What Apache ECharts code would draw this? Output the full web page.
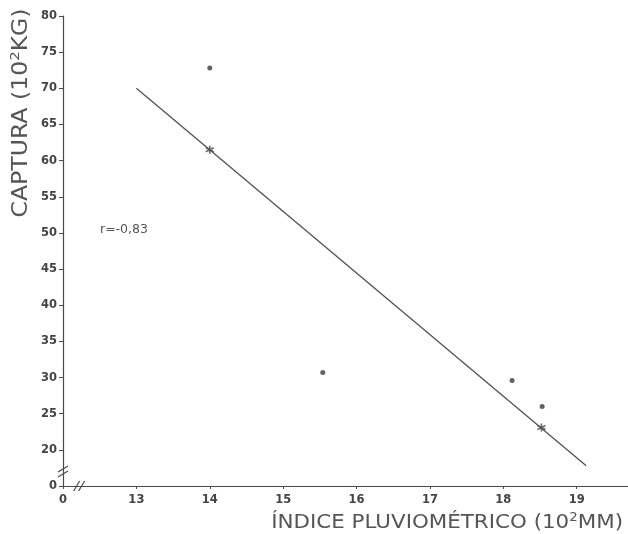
<!DOCTYPE html>
<html>
<head>
<meta charset="utf-8">
<script src="https://cdn.jsdelivr.net/npm/echarts@6/dist/echarts.min.js"></script>
<style>
html, body { margin: 0; padding: 0; background: #ffffff; }
#chart { width: 628px; height: 534px; }
</style>
</head>
<body>
<div id="chart"></div>
<script>
// observações (pontos)
var obsX = [14.0, 15.54, 18.12, 18.53];
var obsY = [72.8, 30.7, 29.6, 26.0];
// médias (asteriscos) sobre a reta
var meanX = [14.0, 18.52];
var meanY = [61.5, 23.1];
// reta de regressão, extremos
var fitX = [13.0, 19.13];
var fitY = [70.0, 17.8];
// eixos (valor inicial mostrado como "0" por causa da quebra)
var xTicks = [12, 13, 14, 15, 16, 17, 18, 19];
var yTicks = [15, 20, 25, 30, 35, 40, 45, 50, 55, 60, 65, 70, 75, 80];

var ink = '#4a4a4a';
var font = 'DejaVu Sans';

function pairs(xs, ys){
    var out = [];
    for (var i = 0; i < xs.length; i++) out.push([xs[i], ys[i]]);
    return out;
}

var star = 'path://M5,0L5,10M0,2.5L10,7.5M0,7.5L10,2.5';

var chart = echarts.init(document.getElementById('chart'));
var option = {
    backgroundColor: '#ffffff',
    animation: false,
    grid: { left: 63, right: 0, top: 16, bottom: 48, containLabel: false },
    xAxis: {
        type: 'value',
        min: 12, max: 19.7, interval: 1,
        splitLine: { show: false },
        axisLine: { lineStyle: { color: ink, width: 1.2 } },
        axisTick: { length: 3, lineStyle: { color: ink } },
        axisLabel: {
            color: '#444', fontFamily: font, fontSize: 11.5, fontWeight: 'bold', margin: 8,
            showMaxLabel: false,
            formatter: function(v){
                if (xTicks.indexOf(v) < 0) return '';
                return v === xTicks[0] ? '0' : String(v);
            }
        }
    },
    yAxis: {
        type: 'value',
        min: 15, max: 80, interval: 5,
        splitLine: { show: false },
        axisLine: { lineStyle: { color: ink, width: 1.2 } },
        axisTick: { length: 4, lineStyle: { color: ink } },
        axisLabel: {
            color: '#444', fontFamily: font, fontSize: 11.5, fontWeight: 'bold', margin: 6,
            formatter: function(v){
                if (yTicks.indexOf(v) < 0) return '';
                return v === yTicks[0] ? '0' : String(v);
            }
        }
    },
    series: [
        {
            name: 'reta',
            type: 'line',
            data: pairs(fitX, fitY),
            symbol: 'none',
            lineStyle: { color: '#555', width: 1.4 }
        },
        {
            name: 'médias',
            type: 'scatter',
            data: pairs(meanX, meanY),
            symbol: star,
            symbolSize: 8,
            itemStyle: { color: 'none', borderColor: '#444', borderWidth: 1.6 }
        },
        {
            name: 'observações',
            type: 'scatter',
            data: pairs(obsX, obsY),
            symbol: 'circle',
            symbolSize: 5,
            itemStyle: { color: '#3a3a3a' }
        }
    ],
    graphic: [
        {
            type: 'text',
            x: 22, y: 113,
            rotation: Math.PI / 2,
            scaleX: 1.15,
            style: {
                text: '{a|CAPTURA (10}{s|2}{a|KG)}',
                align: 'center', verticalAlign: 'middle',
                rich: {
                    a: { fontFamily: font, fontSize: 20.5, fill: '#555', lineHeight: 26 },
                    s: { fontFamily: font, fontSize: 13, fill: '#555', verticalAlign: 'top', lineHeight: 26 }
                }
            }
        },
        {
            type: 'text',
            x: 623, y: 523,
            scaleX: 1.07,
            style: {
                text: '{a|ÍNDICE PLUVIOMÉTRICO (10}{s|2}{a|MM)}',
                align: 'right', verticalAlign: 'middle',
                rich: {
                    a: { fontFamily: font, fontSize: 20, fill: '#555', lineHeight: 24 },
                    s: { fontFamily: font, fontSize: 12.5, fill: '#555', verticalAlign: 'top', lineHeight: 24 }
                }
            }
        },
        {
            type: 'text',
            x: 100, y: 230,
            style: {
                text: 'r=-0,83', fontFamily: font, fontSize: 12.5, fill: '#555',
                align: 'left', verticalAlign: 'middle'
            }
        }
    ]
};
chart.setOption(option);

// marcas de quebra dos eixos
var py = chart.convertToPixel({ gridIndex: 0 }, [12, 17.0]);
var px = chart.convertToPixel({ gridIndex: 0 }, [12.22, 15]);
var brk = [];
[-2.5, 2.5].forEach(function(d){
    brk.push({ type: 'line', shape: { x1: py[0] - 5, y1: py[1] + d + 3, x2: py[0] + 5, y2: py[1] + d - 3 },
               style: { stroke: ink, lineWidth: 1.2 } });
    brk.push({ type: 'line', shape: { x1: px[0] + d - 3, y1: px[1] + 5, x2: px[0] + d + 3, y2: px[1] - 5 },
               style: { stroke: ink, lineWidth: 1.2 } });
});
chart.setOption({ graphic: option.graphic.concat(brk) });
</script>
</body>
</html>
